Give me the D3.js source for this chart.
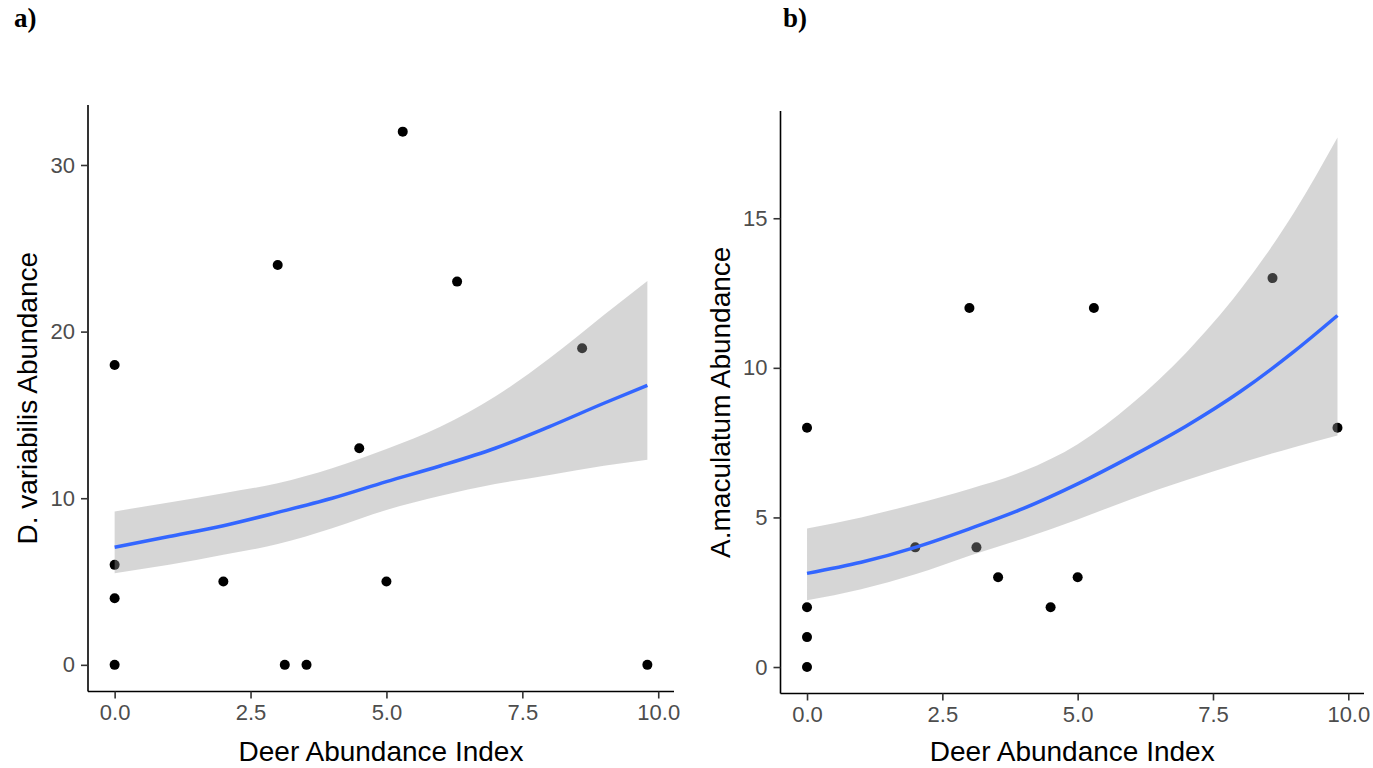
<!DOCTYPE html>
<html>
<head>
<meta charset="utf-8">
<script src="https://cdn.jsdelivr.net/npm/d3@7"></script>
<style>
  body { margin: 0; background: #fff; }
  .tick text { font-family: "Liberation Sans", Arial, sans-serif; }
</style>
</head>
<body>
<script>
// panel a) D. variabilis
const deerA = [0, 0, 0, 0, 2, 3, 3.13, 3.53, 4.5, 5, 5.3, 6.3, 8.6, 9.8];
const dvarA = [18, 6, 4, 0, 5, 24, 0, 0, 13, 5, 32, 23, 19, 0];

// panel b) A. maculatum (6.3 not shown)
const deerB = [0, 0, 0, 0, 2, 3, 3.13, 3.53, 4.5, 5, 5.3, 8.6, 9.8];
const amacB = [8, 2, 1, 0, 4, 12, 4, 3, 2, 3, 12, 13, 8];

// fitted curve + confidence band
const fitX = [0, 1, 2, 3, 4, 5, 6, 7, 8, 9, 9.8];
const fitA = [7.06, 7.7, 8.35, 9.15, 10.0, 11.0, 11.95, 13.0, 14.3, 15.7, 16.77];
const hiA = [9.21, 9.75, 10.3, 10.9, 11.8, 12.95, 14.3, 16.1, 18.4, 21.0, 23.04];
const loA = [5.5, 6.0, 6.6, 7.25, 8.2, 9.3, 10.15, 10.85, 11.4, 11.95, 12.31];

const fitB = [3.13, 3.5, 4.0, 4.62, 5.3, 6.12, 7.05, 8.05, 9.2, 10.55, 11.75];
const hiB = [4.63, 5.0, 5.45, 5.95, 6.55, 7.45, 8.8, 10.5, 12.6, 15.2, 17.7];
const loB = [2.23, 2.6, 3.1, 3.72, 4.3, 4.93, 5.62, 6.24, 6.82, 7.35, 7.74];

const xTicks = [0, 2.5, 5, 7.5, 10];
const yTicksA = [0, 10, 20, 30];
const yTicksB = [0, 5, 10, 15];

const W = 1373, H = 768;

const svg = d3.select("body").append("svg")
  .attr("width", W)
  .attr("height", H);

const panels = [
  {tag: "a)", tagX: 14, xs: deerA, ys: dvarA, fit: fitA, lo: loA, hi: hiA,
   xRange: [88, 674], yDomain: [-1.6, 33.6], yRange: [691.5, 105],
   yTicks: yTicksA, yTitle: "D. variabilis Abundance"},
  {tag: "b)", tagX: 783, xs: deerB, ys: amacB, fit: fitB, lo: loB, hi: hiB,
   xRange: [780.5, 1364], yDomain: [-0.885, 18.585], yRange: [693.5, 111],
   yTicks: yTicksB, yTitle: "A.maculatum Abundance"}
];

panels.forEach(function(p) {
  const x = d3.scaleLinear().domain([-0.49, 10.29]).range(p.xRange);
  const y = d3.scaleLinear().domain(p.yDomain).range(p.yRange);
  const g = svg.append("g");

  const pts = p.xs.map(function(d, i) { return {x: d, y: p.ys[i]}; });
  const band = fitX.map(function(d, i) { return {x: d, fit: p.fit[i], lo: p.lo[i], hi: p.hi[i]}; });

  // points first, band drawn over them (as geom_smooth does)
  g.selectAll("circle")
    .data(pts)
    .enter().append("circle")
      .attr("cx", function(d) { return x(d.x); })
      .attr("cy", function(d) { return y(d.y); })
      .attr("r", 5)
      .attr("fill", "#000");

  g.append("path")
    .datum(band)
    .attr("fill", "#999999")
    .attr("fill-opacity", 0.4)
    .attr("d", d3.area()
      .x(function(d) { return x(d.x); })
      .y0(function(d) { return y(d.lo); })
      .y1(function(d) { return y(d.hi); })
      .curve(d3.curveMonotoneX));

  g.append("path")
    .datum(band)
    .attr("fill", "none")
    .attr("stroke", "#3366FF")
    .attr("stroke-width", 3.5)
    .attr("d", d3.line()
      .x(function(d) { return x(d.x); })
      .y(function(d) { return y(d.fit); })
      .curve(d3.curveMonotoneX));

  // axes
  const xAxis = g.append("g")
    .attr("transform", `translate(0, ${p.yRange[0]})`)
    .call(d3.axisBottom(x).tickValues(xTicks).tickFormat(d3.format(".1f")).tickSize(7).tickPadding(6));
  const yAxis = g.append("g")
    .attr("transform", `translate(${p.xRange[0]}, 0)`)
    .call(d3.axisLeft(y).tickValues(p.yTicks).tickSize(7).tickPadding(6));

  [xAxis, yAxis].forEach(function(a) {
    a.select(".domain").attr("stroke", "#000").attr("stroke-width", 1.6);
    a.selectAll(".tick line").attr("stroke", "#333").attr("stroke-width", 1.6);
    a.selectAll(".tick text").attr("fill", "#4d4d4d").attr("font-size", 22);
  });
  xAxis.select(".domain").attr("d", `M${p.xRange[0]},0H${p.xRange[1]}`);
  yAxis.select(".domain").attr("d", `M0,${p.yRange[0]}V${p.yRange[1]}`);

  g.append("text")
    .attr("x", (p.xRange[0] + p.xRange[1]) / 2)
    .attr("y", 761)
    .attr("text-anchor", "middle")
    .attr("font-family", "Liberation Sans, Arial, sans-serif")
    .attr("font-size", 28)
    .text("Deer Abundance Index");

  g.append("text")
    .attr("transform", `translate(${p.xRange[0] - 51}, ${(p.yRange[0] + p.yRange[1]) / 2}) rotate(-90)`)
    .attr("text-anchor", "middle")
    .attr("font-family", "Liberation Sans, Arial, sans-serif")
    .attr("font-size", 28)
    .text(p.yTitle);

  svg.append("text")
    .attr("x", p.tagX)
    .attr("y", 27)
    .attr("font-family", "Liberation Serif, Times New Roman, serif")
    .attr("font-weight", "bold")
    .attr("font-size", 27)
    .text(p.tag);
});
</script>
</body>
</html>
